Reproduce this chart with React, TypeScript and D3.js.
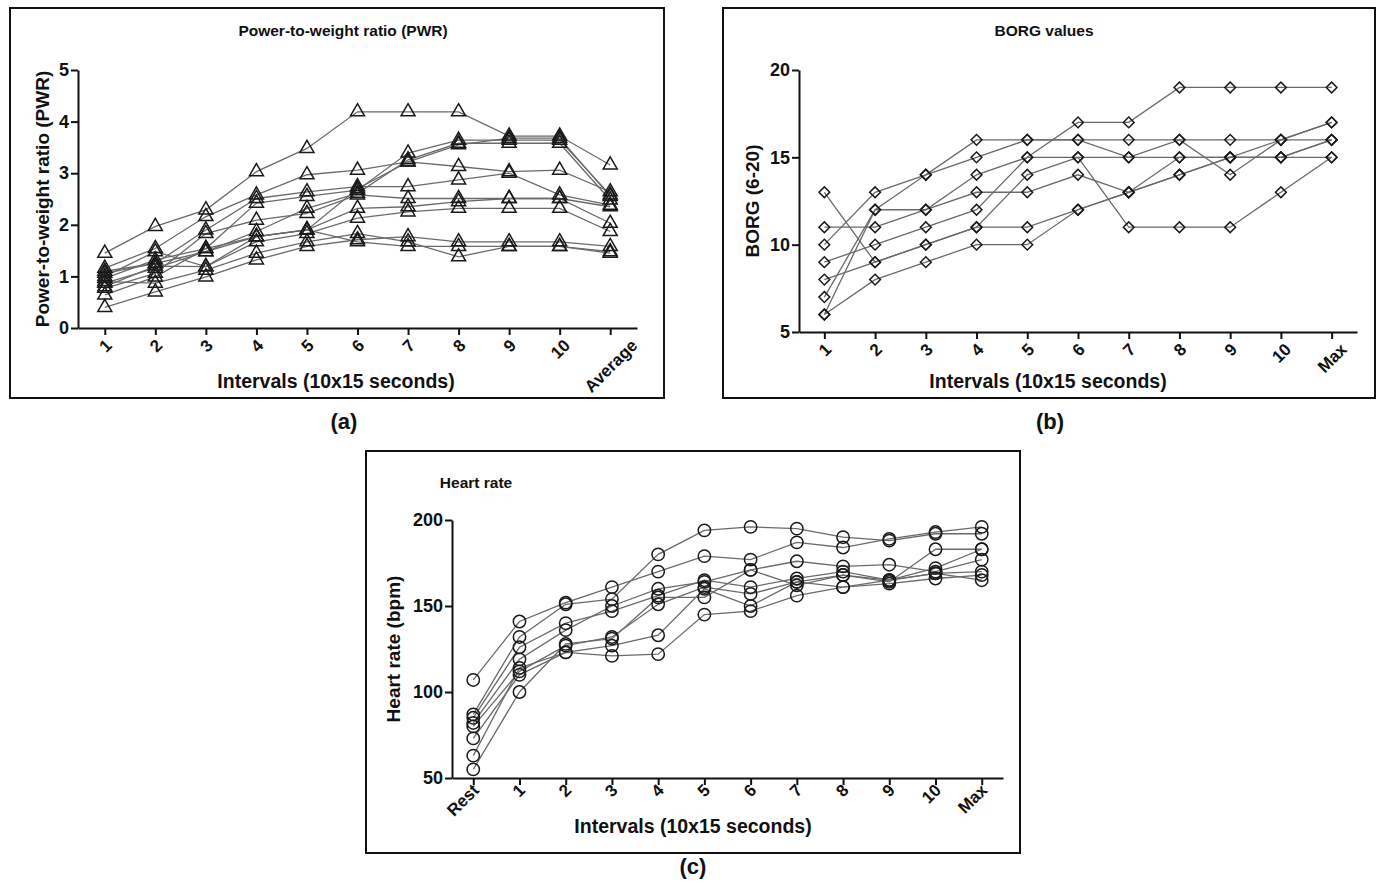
import { useEffect, useRef } from 'react';
import * as d3 from 'd3';

// ---------- data ----------
const pwrCategories = ['1', '2', '3', '4', '5', '6', '7', '8', '9', '10', 'Average'];
const pwrSeries: number[][] = [
  [1.45, 1.97, 2.29, 3.03, 3.48, 4.19, 4.19, 4.19, 3.72, 3.72, 3.16],
  [1.16, 1.54, 2.16, 2.58, 2.97, 3.06, 3.22, 3.13, 3.03, 3.06, 2.64],
  [1.06, 1.25, 1.9, 2.51, 2.64, 2.74, 2.74, 2.87, 3.0, 2.58, 2.38],
  [0.96, 1.32, 1.54, 2.42, 2.55, 2.67, 3.39, 3.64, 3.64, 3.64, 2.58],
  [0.87, 1.16, 1.48, 1.87, 2.32, 2.61, 3.26, 3.58, 3.58, 3.58, 2.48],
  [0.77, 1.06, 1.83, 2.09, 2.22, 2.58, 2.51, 2.51, 2.51, 2.51, 2.35],
  [0.64, 0.99, 1.54, 1.77, 1.9, 2.32, 2.35, 2.45, 2.51, 2.51, 2.03],
  [0.4, 0.7, 0.99, 1.32, 1.58, 1.71, 1.77, 1.67, 1.67, 1.67, 1.58],
  [1.0, 1.48, 1.19, 1.67, 1.83, 2.13, 2.25, 2.32, 2.32, 2.32, 1.87],
  [0.9, 0.87, 1.12, 1.45, 1.67, 1.83, 1.67, 1.38, 1.58, 1.58, 1.48],
  [1.1, 1.25, 1.48, 1.77, 1.9, 1.67, 1.58, 1.58, 1.58, 1.58, 1.45],
  [0.8, 1.2, 1.19, 1.77, 1.9, 2.7, 3.22, 3.55, 3.68, 3.68, 2.55],
];
const pwrTicks = [0, 1, 2, 3, 4, 5];

const borgCategories = ['1', '2', '3', '4', '5', '6', '7', '8', '9', '10', 'Max'];
const borgSeries: number[][] = [
  [13, 9, 10, 11, 11, 12, 13, 14, 15, 15, 16],
  [11, 11, 12, 13, 13, 14, 13, 15, 15, 16, 17],
  [10, 13, 14, 16, 16, 16, 16, 16, 14, 16, 17],
  [9, 10, 11, 12, 15, 17, 17, 19, 19, 19, 19],
  [8, 9, 10, 11, 14, 15, 15, 15, 15, 15, 15],
  [7, 12, 14, 15, 16, 16, 15, 16, 16, 16, 16],
  [6, 12, 12, 14, 15, 15, 11, 11, 11, 13, 15],
  [6, 8, 9, 10, 10, 12, 13, 14, 15, 15, 16],
];
const borgTicks = [5, 10, 15, 20];

const hrCategories = ['Rest', '1', '2', '3', '4', '5', '6', '7', '8', '9', '10', 'Max'];
const hrSeries: number[][] = [
  [107, 141, 152, 161, 170, 179, 177, 187, 184, 189, 193, 196],
  [87, 132, 151, 154, 180, 194, 196, 195, 190, 188, 192, 192],
  [85, 126, 140, 147, 156, 165, 161, 166, 170, 165, 172, 183],
  [82, 119, 136, 150, 160, 164, 171, 176, 173, 174, 170, 177],
  [80, 112, 127, 132, 151, 161, 157, 164, 168, 164, 183, 183],
  [73, 110, 123, 127, 133, 160, 150, 164, 161, 165, 169, 170],
  [63, 114, 123, 121, 122, 145, 147, 156, 161, 163, 166, 168],
  [55, 100, 128, 131, 155, 155, 171, 162, 168, 165, 169, 165],
];
const hrTicks = [50, 100, 150, 200];

const FONT = '"Liberation Sans", Arial, Helvetica, sans-serif';

type PanelCfg = {
  frame: [number, number, number, number];
  plot: { left: number; right: number; top: number; bottom: number };
  pad: number;
  domain: [number, number];
  ticks: number[];
  categories: string[];
  series: number[][];
  marker: 'triangle' | 'diamond' | 'circle';
  labelMode: 'center' | 'end';
  title: string;
  titleX: number;
  titleY: number;
  yLabel: string;
  yLabelX: number;
  xLabel: string;
  xLabelX: number;
  xLabelY: number;
  tag: string;
  tagX: number;
  tagY: number;
};

const panels: PanelCfg[] = [
  {
    frame: [10, 8, 654, 390],
    plot: { left: 78, right: 637, top: 70, bottom: 328 },
    pad: 0.53,
    domain: [0, 5],
    ticks: pwrTicks,
    categories: pwrCategories,
    series: pwrSeries,
    marker: 'triangle',
    labelMode: 'center',
    title: 'Power-to-weight ratio (PWR)',
    titleX: 343,
    titleY: 36,
    yLabel: 'Power-to-weight ratio (PWR)',
    yLabelX: 49,
    xLabel: 'Intervals (10x15 seconds)',
    xLabelX: 336,
    xLabelY: 388,
    tag: '(a)',
    tagX: 344,
    tagY: 429,
  },
  {
    frame: [723, 8, 652, 390],
    plot: { left: 799, right: 1357, top: 70, bottom: 332 },
    pad: 0.5,
    domain: [5, 20],
    ticks: borgTicks,
    categories: borgCategories,
    series: borgSeries,
    marker: 'diamond',
    labelMode: 'center',
    title: 'BORG values',
    titleX: 1044,
    titleY: 36,
    yLabel: 'BORG (6-20)',
    yLabelX: 759,
    xLabel: 'Intervals (10x15 seconds)',
    xLabelX: 1048,
    xLabelY: 388,
    tag: '(b)',
    tagX: 1050,
    tagY: 429,
  },
  {
    frame: [366, 451, 654, 402],
    plot: { left: 452, right: 1003, top: 520, bottom: 778 },
    pad: 0.46,
    domain: [50, 200],
    ticks: hrTicks,
    categories: hrCategories,
    series: hrSeries,
    marker: 'circle',
    labelMode: 'end',
    title: 'Heart rate',
    titleX: 476,
    titleY: 488,
    yLabel: 'Heart rate (bpm)',
    yLabelX: 400,
    xLabel: 'Intervals (10x15 seconds)',
    xLabelX: 693,
    xLabelY: 833,
    tag: '(c)',
    tagX: 693,
    tagY: 874,
  },
];

const App = () => {
  const svgRef = useRef<SVGSVGElement>(null);

  useEffect(() => {
    const svg = d3.select(svgRef.current);
    svg.selectAll('*').remove();

    panels.forEach((p) => {
      const g = svg.append('g');

      // frame
      g.append('rect')
        .attr('x', p.frame[0])
        .attr('y', p.frame[1])
        .attr('width', p.frame[2])
        .attr('height', p.frame[3])
        .attr('fill', 'none')
        .attr('stroke', '#111')
        .attr('stroke-width', 2);

      const x = d3
        .scalePoint<string>()
        .domain(p.categories)
        .range([p.plot.left, p.plot.right])
        .padding(p.pad);

      const y = d3
        .scaleLinear()
        .domain(p.domain)
        .range([p.plot.bottom, p.plot.top]);

      // axes
      const yAxis = g
        .append('g')
        .attr('transform', `translate(${p.plot.left},0)`)
        .call(
          d3.axisLeft(y)
            .tickValues(p.ticks)
            .tickFormat(d3.format('d'))
            .tickSize(7)
            .tickSizeOuter(0)
            .tickPadding(2)
        );
      yAxis.select('.domain').attr('stroke', '#111').attr('stroke-width', 2);
      yAxis.selectAll('.tick line').attr('stroke', '#111').attr('stroke-width', 2);
      yAxis
        .selectAll('text')
        .attr('fill', '#111')
        .style('font-family', FONT)
        .style('font-weight', 'bold')
        .style('font-size', '18px');

      const xAxis = g
        .append('g')
        .attr('transform', `translate(0,${p.plot.bottom})`)
        .call(d3.axisBottom(x).tickSize(7).tickSizeOuter(0));
      xAxis.select('.domain').attr('stroke', '#111').attr('stroke-width', 2);
      xAxis.selectAll('.tick line').attr('stroke', '#111').attr('stroke-width', 2);
      const xLabels = xAxis
        .selectAll<SVGTextElement, string>('text')
        .attr('fill', '#111')
        .attr('y', 0)
        .attr('dy', '0.35em')
        .style('font-family', FONT)
        .style('font-weight', 'bold')
        .style('font-size', '17px');

      if (p.labelMode === 'end') {
        xLabels.attr('text-anchor', 'end').attr('transform', 'translate(2,9) rotate(-45)');
      } else {
        // rotated label box centred under its tick, top just below the tick
        xLabels.attr('text-anchor', 'middle').attr('transform', function () {
          const len = this.getComputedTextLength();
          const half = ((len + 12) * Math.SQRT1_2) / 2;
          return `translate(0,${10 + half}) rotate(-45)`;
        });
      }

      // lines
      const line = d3
        .line<number>()
        .x((_, i) => x(p.categories[i]) as number)
        .y((d) => y(d));

      g.append('g')
        .selectAll('path')
        .data(p.series)
        .enter()
        .append('path')
        .attr('d', (d) => line(d))
        .attr('fill', 'none')
        .attr('stroke', '#6a6a6a')
        .attr('stroke-width', 1.3);

      // markers
      const symbolType =
        p.marker === 'triangle' ? d3.symbolTriangle : p.marker === 'diamond' ? d3.symbolSquare : d3.symbolCircle;
      const symbolSize = p.marker === 'triangle' ? 85 : p.marker === 'diamond' ? 58 : 120;
      const sym = d3.symbol().type(symbolType).size(symbolSize);
      const pts = p.series.flatMap((s) => s.map((v, i) => ({ c: p.categories[i], v })));

      g.append('g')
        .selectAll('path')
        .data(pts)
        .enter()
        .append('path')
        .attr('d', sym() as string)
        .attr(
          'transform',
          (d) =>
            `translate(${x(d.c)},${y(d.v)})${p.marker === 'diamond' ? ' rotate(45)' : ''}`
        )
        .attr('fill', 'none')
        .attr('stroke', '#1a1a1a')
        .attr('stroke-width', 1.5);

      // texts
      const text = (tx: number, ty: number, s: string, size: number) =>
        g
          .append('text')
          .attr('x', tx)
          .attr('y', ty)
          .attr('text-anchor', 'middle')
          .attr('fill', '#111')
          .style('font-family', FONT)
          .style('font-weight', 'bold')
          .style('font-size', `${size}px`)
          .text(s);

      text(p.titleX, p.titleY, p.title, 15.5);
      text(p.xLabelX, p.xLabelY, p.xLabel, 19.5);
      text(p.tagX, p.tagY, p.tag, 22);

      const yMid = (p.plot.top + p.plot.bottom) / 2;
      g.append('text')
        .attr('transform', `translate(${p.yLabelX},${yMid}) rotate(-90)`)
        .attr('text-anchor', 'middle')
        .attr('fill', '#111')
        .style('font-family', FONT)
        .style('font-weight', 'bold')
        .style('font-size', '19px')
        .text(p.yLabel);
    });
  }, []);

  return (
    <svg
      ref={svgRef}
      width={1385}
      height={883}
      style={{ position: 'absolute', left: 0, top: 0, background: '#fff' }}
    />
  );
};

export default App;
